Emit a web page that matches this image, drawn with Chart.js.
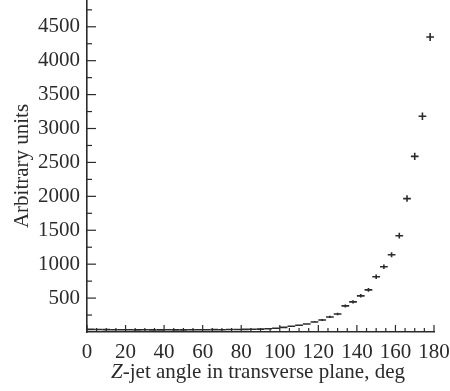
<!DOCTYPE html>
<html>
<head>
<meta charset="utf-8">
<script src="https://cdn.jsdelivr.net/npm/chart.js@4.4.1/dist/chart.umd.min.js"></script>
<style>
  html, body { margin: 0; padding: 0; background: #fff; }
  #wrap { width: 450px; height: 391px; }
</style>
</head>
<body>
<div id="wrap"><canvas id="myChart"></canvas></div>
<script>
// bin centres (deg), 4 deg wide
const angles = [
  2, 6, 10, 14, 18, 22, 26, 30, 34, 38, 42, 46, 50, 54, 58, 62, 66, 70, 74, 78, 82, 86,
  90, 94, 98, 102, 106, 110, 114, 118, 122, 126, 130, 134, 138, 142, 146, 150, 154, 158,
  162, 166, 170, 174, 178
];
const counts = [
  38, 36, 35, 34, 33, 34, 32, 33, 31, 32, 33, 31, 32, 33, 34, 33, 35, 34, 36, 37, 38, 40,
  42, 48, 56, 68, 85, 100, 118, 148, 178, 222, 266, 385, 444, 533, 621, 814, 962, 1139,
  1420, 1967, 2589, 3180, 4349
];
const errors = [
  6, 6, 6, 6, 6, 6, 6, 6, 6, 6, 6, 6, 6, 6, 6, 6, 6, 6, 6, 6, 6, 6,
  7, 7, 8, 9, 10, 11, 12, 13, 15, 17, 18, 22, 24, 26, 28, 32, 35, 38,
  42, 48, 52, 56, 60
];
const xTicks = [0, 20, 40, 60, 80, 100, 120, 140, 160, 180];
const yTicks = [500, 1000, 1500, 2000, 2500, 3000, 3500, 4000, 4500];

const halfBin = 2;
const ink = "#2b2b2b";
const serif = "'Liberation Serif', 'DejaVu Serif', serif";

const drawExtras = {
  id: "drawExtras",
  afterDatasetsDraw(chart) {
    const ctx = chart.ctx;
    const x = chart.scales.x;
    const y = chart.scales.y;
    ctx.save();
    // error crosses
    ctx.strokeStyle = ink;
    ctx.lineWidth = 1.6;
    angles.forEach((a, i) => {
      const px = x.getPixelForValue(a);
      const py = y.getPixelForValue(counts[i]);
      ctx.beginPath();
      ctx.moveTo(x.getPixelForValue(a - halfBin), py);
      ctx.lineTo(x.getPixelForValue(a + halfBin), py);
      ctx.moveTo(px, y.getPixelForValue(counts[i] - errors[i]));
      ctx.lineTo(px, y.getPixelForValue(counts[i] + errors[i]));
      ctx.stroke();
    });
    // inward ticks
    ctx.lineWidth = 1.2;
    const base = y.getPixelForValue(0);
    for (let v = 0; v <= 180; v += 5) {
      const px = x.getPixelForValue(v);
      const len = v % 20 === 0 ? 7 : 4;
      ctx.beginPath();
      ctx.moveTo(px, base);
      ctx.lineTo(px, base - len);
      ctx.stroke();
    }
    const left = x.getPixelForValue(0);
    for (let v = 250; v <= 4750; v += 250) {
      const py = y.getPixelForValue(v);
      const len = v % 500 === 0 ? 9 : 5;
      ctx.beginPath();
      ctx.moveTo(left, py);
      ctx.lineTo(left + len, py);
      ctx.stroke();
    }
    // axis titles
    ctx.fillStyle = ink;
    ctx.textBaseline = "middle";
    ctx.font = "italic 21px " + serif;
    const rest = "-jet angle in transverse plane, deg";
    const zW = ctx.measureText("Z").width;
    ctx.font = "21px " + serif;
    const rW = ctx.measureText(rest).width;
    const startX = 258 - (zW + rW) / 2;
    ctx.textAlign = "left";
    ctx.font = "italic 21px " + serif;
    ctx.fillText("Z", startX, 372);
    ctx.font = "21px " + serif;
    ctx.fillText(rest, startX + zW, 372);

    ctx.translate(22, 166);
    ctx.rotate(-Math.PI / 2);
    ctx.textAlign = "center";
    ctx.fillText("Arbitrary units", 0, 0);
    ctx.restore();
  }
};

new Chart(document.getElementById("myChart"), {
  type: "scatter",
  data: {
    datasets: [{
      data: angles.map((a, i) => ({ x: a, y: counts[i] })),
      pointRadius: 0,
      pointHoverRadius: 0
    }]
  },
  options: {
    responsive: true,
    maintainAspectRatio: false,
    animation: false,
    events: [],
    layout: { padding: { top: 1, right: 16, left: 0, bottom: 0 } },
    plugins: { legend: { display: false }, tooltip: { enabled: false } },
    scales: {
      x: {
        type: "linear",
        min: 0,
        max: 180,
        afterBuildTicks: (s) => { s.ticks = xTicks.map(v => ({ value: v })); },
        afterFit: (s) => {
          s.height = 59;
          s.paddingLeft = 0;
          s.paddingRight = 0;
        },
        grid: { display: false, drawTicks: false },
        border: { display: true, color: ink, width: 1.6 },
        ticks: {
          padding: 8,
          color: ink,
          maxRotation: 0,
          autoSkip: false,
          callback: (v) => String(v),
          font: { family: serif, size: 21 }
        }
      },
      y: {
        type: "linear",
        min: 0,
        max: 4880,
        afterBuildTicks: (s) => { s.ticks = yTicks.map(v => ({ value: v })); },
        afterFit: (s) => {
          s.width = 87;
          s.paddingTop = 0;
          s.paddingBottom = 0;
        },
        grid: { display: false, drawTicks: false },
        border: { display: true, color: ink, width: 1.6 },
        ticks: {
          padding: 7,
          color: ink,
          autoSkip: false,
          callback: (v) => String(v),
          font: { family: serif, size: 21 }
        }
      }
    }
  },
  plugins: [drawExtras]
});
</script>
</body>
</html>
